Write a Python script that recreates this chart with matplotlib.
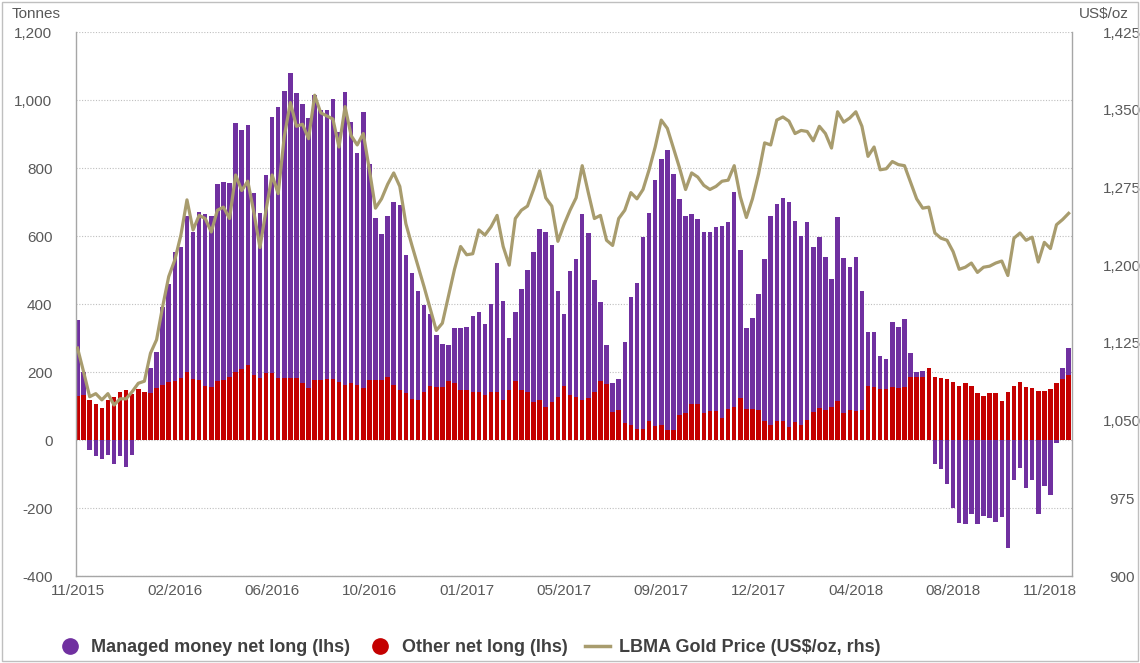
import numpy as np
import matplotlib
matplotlib.use("Agg")
import matplotlib.pyplot as plt
from matplotlib.lines import Line2D
from matplotlib.patches import Rectangle
from matplotlib.ticker import FuncFormatter

plt.rcParams['font.family'] = ['Liberation Sans', 'DejaVu Sans']

# ---------------- data (weekly, Nov 2015 - Nov 2018) ----------------
other_net_long = [
    129, 132, 118, 106, 95, 118, 127, 142, 147, 135, 149, 142, 139, 152, 162, 172,
    175, 181, 199, 178, 176, 159, 155, 175, 176, 184, 201, 208, 220, 191, 181, 196,
    196, 181, 181, 181, 181, 167, 152, 176, 176, 179, 179, 172, 162, 167, 162, 152,
    176, 176, 176, 186, 162, 147, 137, 120, 118, 142, 159, 155, 155, 174, 169, 147,
    147, 140, 140, 132, 142, 142, 118, 147, 175, 147, 142, 113, 118, 96, 113, 127,
    160, 132, 127, 118, 125, 140, 174, 165, 83, 88, 51, 44, 31, 31, 57, 41,
    44, 29, 29, 74, 78, 106, 106, 78, 86, 86, 64, 90, 98, 123, 90, 90,
    88, 57, 44, 57, 57, 39, 54, 44, 59, 83, 93, 88, 98, 115, 80, 88,
    86, 88, 159, 157, 149, 149, 155, 152, 155, 186, 184, 184, 211, 186, 182, 178,
    172, 160, 167, 159, 137, 129, 137, 137, 116, 142, 159, 171, 157, 152, 145, 145,
    149, 169, 178, 191,
]
managed_money_net_long = [
    224, 69, -29, -47, -55, -44, -71, -47, -78, -44, 0, 0, 72, 108, 228, 287,
    379, 388, 460, 435, 496, 505, 505, 578, 584, 573, 730, 704, 706, 536, 488, 583,
    755, 799, 844, 899, 841, 821, 794, 840, 795, 792, 824, 733, 863, 769, 683, 814,
    636, 478, 430, 473, 537, 544, 407, 372, 321, 255, 211, 155, 127, 104, 161, 183,
    185, 226, 237, 208, 258, 380, 290, 154, 202, 297, 358, 439, 503, 515, 460, 310,
    210, 364, 405, 548, 485, 330, 233, 114, 86, 92, 236, 376, 432, 565, 612, 725,
    781, 824, 754, 636, 580, 560, 544, 535, 525, 539, 564, 550, 630, 435, 240, 270,
    342, 476, 614, 638, 654, 662, 591, 556, 583, 486, 505, 451, 375, 542, 456, 422,
    453, 351, 160, 162, 99, 89, 193, 181, 200, 71, 17, 20, 0, -71, -84, -129,
    -201, -243, -247, -218, -247, -224, -230, -240, -227, -319, -118, -83, -142, -118, -219, -135,
    -162, -8, 35, 81,
]
gold_price = [
    1120, 1097, 1073, 1076, 1070, 1076, 1065, 1071, 1071, 1078, 1086, 1088, 1115, 1128, 1160, 1189,
    1205, 1229, 1263, 1234, 1248, 1245, 1232, 1253, 1256, 1245, 1287, 1272, 1281, 1251, 1217, 1253,
    1287, 1269, 1324, 1357, 1334, 1336, 1322, 1364, 1347, 1344, 1341, 1314, 1353, 1325, 1316, 1327,
    1292, 1255, 1264, 1278, 1289, 1276, 1240, 1219, 1199, 1179, 1158, 1137, 1144, 1170, 1196, 1218,
    1210, 1211, 1234, 1229, 1237, 1248, 1218, 1200, 1245, 1253, 1257, 1273, 1291, 1265, 1257, 1223,
    1239, 1253, 1265, 1296, 1270, 1245, 1248, 1224, 1219, 1245, 1253, 1270, 1264, 1273, 1292, 1314,
    1340, 1332, 1313, 1294, 1273, 1289, 1285, 1277, 1273, 1276, 1281, 1282, 1296, 1266, 1246, 1264,
    1288, 1318, 1316, 1340, 1343, 1339, 1327, 1330, 1329, 1320, 1334, 1327, 1313, 1348, 1338, 1342,
    1348, 1334, 1305, 1314, 1292, 1293, 1300, 1297, 1296, 1280, 1264, 1255, 1256, 1231, 1226, 1224,
    1213, 1196, 1198, 1202, 1193, 1198, 1199, 1202, 1204, 1190, 1226, 1231, 1224, 1227, 1203, 1222,
    1216, 1239, 1244, 1250,
]
tick_labels = ['11/2015', '02/2016', '06/2016', '10/2016', '01/2017', '05/2017',
               '09/2017', '12/2017', '04/2018', '08/2018', '11/2018']
tick_step = 16  # one label every 16 weeks

left_ticks = list(range(-400, 1201, 200))
right_ticks = list(range(900, 1426, 75))

# ---------------- styling ----------------
PURPLE = '#7030A0'
RED = '#C40000'
GOLD = '#A89C6E'
TXT = '#595959'
GRID = '#BFBFBF'
SPINE = '#A6A6A6'

W, H = 1140, 663
fig = plt.figure(figsize=(W / 100, H / 100), dpi=100)
ax = fig.add_axes([76 / W, 1 - 576 / H, (1072 - 76) / W, (576 - 32) / H])

other = np.array(other_net_long, dtype=float)
mm = np.array(managed_money_net_long, dtype=float)
x = np.arange(len(other))

ax.bar(x, other, width=0.74, color=RED, zorder=2, linewidth=0)
bottom = np.where(mm > 0, other, 0)
ax.bar(x, mm, bottom=bottom, width=0.74, color=PURPLE, zorder=2, linewidth=0)

ax.set_ylim(-400, 1200)
ax.set_xlim(-0.25, len(x) - 1 + 0.55)
ax.set_yticks(left_ticks)
ax.yaxis.set_major_formatter(FuncFormatter(lambda v, p: f'{v:,.0f}'))
ax.set_xticks(np.arange(0, len(x), tick_step)[:len(tick_labels)])
ax.set_xticklabels(tick_labels)
ax.tick_params(axis='both', length=0, colors=TXT, labelsize=11)
ax.tick_params(axis='y', pad=17)
ax.tick_params(axis='x', pad=6)
ax.grid(axis='y', linestyle=(0, (1, 1.5)), color=GRID, linewidth=0.8, zorder=0)
ax.set_axisbelow(True)
ax.spines['top'].set_visible(False)
for s in ['left', 'bottom', 'right']:
    ax.spines[s].set_color(SPINE)
    ax.spines[s].set_linewidth(1.0)

ax2 = ax.twinx()
ax2.plot(x, gold_price, color=GOLD, linewidth=2.3, zorder=3, solid_joinstyle='round')
ax2.set_ylim(900, 1425)
ax2.set_yticks(right_ticks)
ax2.yaxis.set_major_formatter(FuncFormatter(lambda v, p: f'{v:,.0f}'))
ax2.tick_params(axis='y', length=0, colors=TXT, labelsize=11, pad=36)
for lab in ax2.get_yticklabels():
    lab.set_horizontalalignment('center')
for s in ['top', 'left', 'bottom', 'right']:
    ax2.spines[s].set_visible(False)

fig.text(12 / W, 1 - 14 / H, 'Tonnes', color=TXT, fontsize=11, va='center', ha='left')
fig.text(1104 / W, 1 - 14 / H, 'US$/oz', color=TXT, fontsize=11, va='center', ha='center')

# legend
handles = [
    Line2D([], [], linestyle='none', marker='o', markersize=11, markerfacecolor=PURPLE,
           markeredgecolor=PURPLE),
    Line2D([], [], linestyle='none', marker='o', markersize=11, markerfacecolor=RED,
           markeredgecolor=RED),
    Line2D([], [], color=GOLD, linewidth=2.5),
]
labels = ['Managed money net long (lhs)', 'Other net long (lhs)', 'LBMA Gold Price (US$/oz, rhs)']
leg = fig.legend(handles, labels, loc='center left', bbox_to_anchor=(57 / W, 1 - 648 / H),
                 ncol=3, frameon=False, handlelength=1.4, handletextpad=0.5,
                 columnspacing=0.95, borderaxespad=0, borderpad=0,
                 prop={'weight': 'bold', 'size': 13})
for t in leg.get_texts():
    t.set_color('#404040')

fig.add_artist(Rectangle((2 / W, 2 / H), (W - 4) / W, (H - 4) / H, transform=fig.transFigure,
                         fill=False, edgecolor='#BFBFBF', linewidth=1.0))

fig.savefig('out.png', dpi=100)
